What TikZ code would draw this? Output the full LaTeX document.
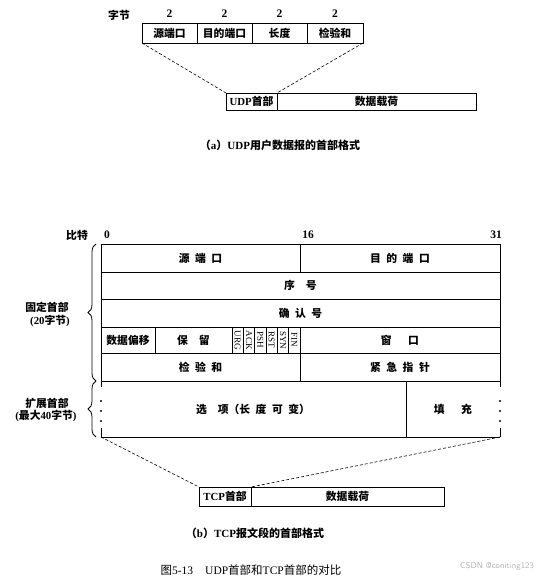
\documentclass[tikz,border=0pt]{standalone}
\usepackage{fontspec}
\setmainfont{Noto Sans CJK SC}
\newfontfamily\lat{Liberation Serif}
\usetikzlibrary{decorations.pathreplacing}
\newcommand\gp{\hspace{5.5pt}}
\newcommand\cellbox[6]{\node[cell, minimum width={(#4-#2)*1pt}, minimum height={(#5-#3)*1pt}] (#1) at (#2,#3) {#6};}
\tikzset{
  cell/.style={draw, line width=0.8pt, inner sep=0pt, outer sep=0pt, anchor=north west, font=\fontsize{10.8}{12}\selectfont\bfseries},
  lbl/.style={inner sep=0pt, font=\fontsize{10.8}{12}\selectfont\bfseries},
  num/.style={inner sep=0pt, font=\lat\fontsize{11.5}{12}\selectfont\bfseries},
  flag/.style={inner sep=0pt, rotate=-90, font=\lat\fontsize{9}{9}\selectfont},
  zoomline/.style={densely dashed, line width=0.6pt},
  brc/.style={decorate, decoration={brace, amplitude=8pt}, line width=0.8pt},
  capt/.style={inner sep=0pt, font=\fontsize{11}{12}\selectfont\bfseries},
}
\begin{document}
\begin{tikzpicture}[x=1pt,y=-1pt]
\useasboundingbox (0,0) rectangle (542,579);
% ---------- UDP ----------
\node[lbl] (zj) at (119,15) {字节};
\cellbox{u1}{142}{23}{197}{43}{源端口}
\cellbox{u2}{197}{23}{252}{43}{目的端口}
\cellbox{u3}{252}{23}{307}{43}{长度}
\cellbox{u4}{307}{23}{363}{43}{检验和}
\foreach \n in {u1,u2,u3,u4} {\node[num] at ([yshift=9pt]\n.north) {2};}
\cellbox{uh}{226}{93}{277}{110}{{\lat UDP}首部}
\cellbox{ud}{277}{93}{476}{110}{数据载荷}
\draw[zoomline] (u1.south west) -- (uh.north west);
\draw[zoomline] (u4.south east) -- (uh.north east);
\node[capt] (capa) at (280,145) {（{\lat a}）{\lat UDP}用户数据报的首部格式};
% ---------- TCP ----------
\node[lbl] (bt) at (77,235) {比特};
\node[num] (b0) at (107,235) {0};
\node[num] (b16) at (308,235) {16};
\node[num] (b31) at (496,235) {31};
\cellbox{t1}{101}{244}{300}{272}{源\gp 端\gp 口}
\cellbox{t2}{300}{244}{500}{272}{目\gp 的\gp 端\gp 口}
\cellbox{t3}{101}{272}{500}{299}{序\gp\gp 号}
\cellbox{t4}{101}{299}{500}{327}{确\gp 认\gp 号}
\cellbox{t5}{101}{327}{155}{353}{数据偏移}
\cellbox{t6}{155}{327}{232}{353}{保\gp\gp 留}
\foreach \f [count=\i from 0] in {URG,ACK,PSH,RST,SYN,FIN} {
  \pgfmathsetmacro\xa{232+\i*68/6}
  \node[cell, minimum width={68/6*1pt}, minimum height=26pt] (f\i) at (\xa,327) {};
  \node[flag] at (f\i.center) {\f};
}
\cellbox{t7}{300}{327}{500}{353}{窗\gp\gp\gp 口}
\cellbox{t8}{101}{353}{300}{381}{检\gp 验\gp 和}
\cellbox{t9}{300}{353}{500}{381}{紧\gp 急\gp 指\gp 针}
% options row
\coordinate (oTL) at (101,381);
\coordinate (oBL) at (101,437);
\coordinate (oTR) at (500,381);
\coordinate (oBR) at (500,437);
\coordinate (oDT) at (406,381);
\coordinate (oDB) at (406,437);
\draw[line width=0.8pt] (oBL) -- (oBR);
\draw[line width=0.8pt] (oDT) -- (oDB);
\draw[line width=0.8pt] (oTL) -- ++(0,6) (oBL) -- ++(0,-9);
\draw[line width=0.8pt] (oTR) -- ++(0,6) (oBR) -- ++(0,-9);
\foreach \yy in {401,411,421} {
  \fill (101,\yy) circle (1.1pt);
  \fill (500,\yy) circle (1.1pt);
}
\node[lbl] (opt) at (253,409) {选\gp\gp 项（长\gp 度\gp 可\gp 变）};
\node[lbl] (pad) at (453,409) {填\gp\gp\gp 充};
% braces
\draw[brc] (96,381) -- (96,244);
\draw[brc] (96,437) -- (96,381);
\node[lbl] (fx1) at (47,307) {固定首部};
\node[lbl] (fx2) at (50,321) {{\lat\bfseries (}{\lat 20}字节{\lat\bfseries )}};
\node[lbl] (ex1) at (47,403) {扩展首部};
\node[lbl] (ex2) at (46,416) {{\lat\bfseries (}最大{\lat 40}字节{\lat\bfseries )}};
% lower TCP
\cellbox{th}{199}{487}{251}{506}{{\lat TCP}首部}
\cellbox{td}{251}{487}{444}{506}{数据载荷}
\draw[zoomline] (oBL) -- (th.north west);
\draw[zoomline] (oBR) -- (th.north east);
\node[capt] (capb) at (255,533) {（{\lat b}）{\lat TCP}报文段的首部格式};
\node[inner sep=0pt, font=\fontsize{11.5}{13}\selectfont] (fig) at (251,570) {图{\lat 5-13}\hspace{12pt}{\lat UDP}首部和{\lat TCP}首部的对比};
\node[inner sep=0pt, text=gray!60, font=\sffamily\fontsize{8.5}{9}\selectfont] (wm) at (497,566) {CSDN @coniting123};
\end{tikzpicture}
\end{document}
